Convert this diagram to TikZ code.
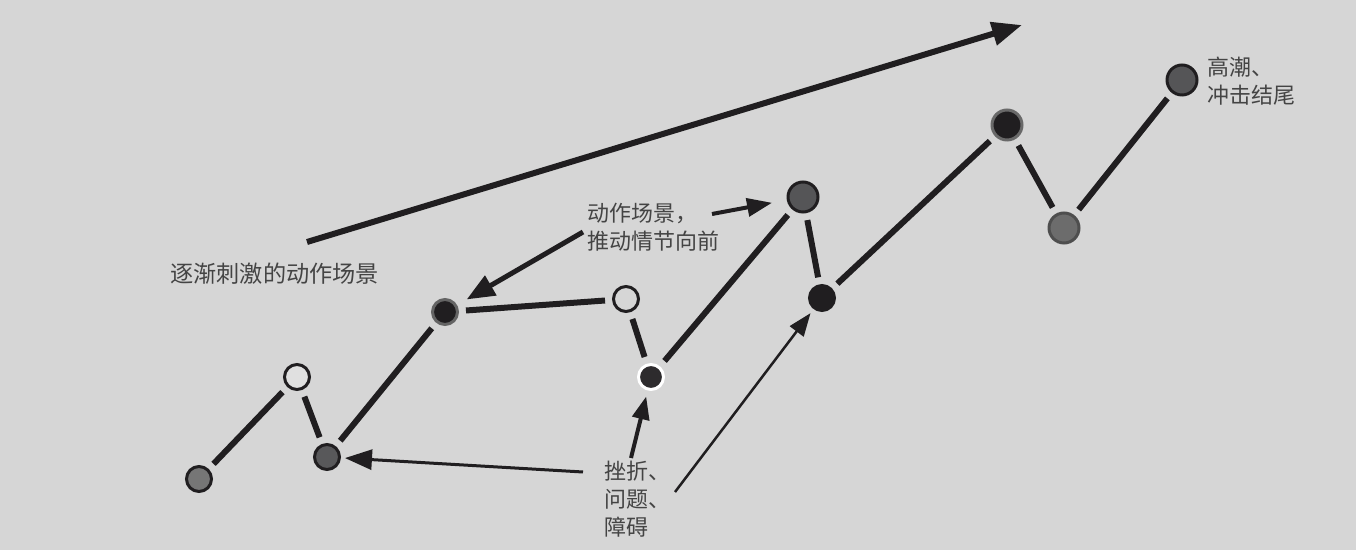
\documentclass[tikz,border=0pt]{standalone}
\usepackage{fontspec}
\setmainfont{Noto Sans CJK SC}
\usetikzlibrary{arrows.meta}

\definecolor{bg}{RGB}{214,214,214}
\definecolor{ink}{RGB}{32,30,32}
\definecolor{txt}{RGB}{68,68,68}

\tikzset{
  dot/.style={circle, draw=ink, line width=0.06cm, minimum size=0.5cm, inner sep=0pt},
  bigdot/.style={dot, minimum size=0.6cm},
  link/.style={draw=ink, line width=0.12cm, shorten >=0.14cm, shorten <=0.14cm},
  lbl/.style={anchor=west, align=left, inner sep=0pt, text=txt,
    font=\fontsize{12.5pt}{16pt}\selectfont}
}

\begin{document}
\begin{tikzpicture}[x=0.02cm, y=-0.02cm]
\useasboundingbox[fill=bg] (0,0) rectangle (1356,550);

\node[dot, fill={rgb,255:red,118;green,118;blue,118}] (1) at (199,479) {};
\node[dot, fill={rgb,255:red,224;green,224;blue,224}] (2) at (297,377) {};
\node[dot, fill={rgb,255:red,88;green,88;blue,90}] (3) at (327,457) {};
\node[dot, fill=ink, draw={rgb,255:red,100;green,100;blue,100}] (4) at (445,312) {};
\node[dot, fill=bg] (5) at (626,299) {};
\node[dot, fill={rgb,255:red,45;green,43;blue,45}, draw=white] (6) at (651,377) {};
\node[bigdot, fill={rgb,255:red,85;green,85;blue,87}] (7) at (803,197) {};
\node[dot, fill=ink] (8) at (822,298) {};
\node[bigdot, fill=ink, draw={rgb,255:red,105;green,105;blue,105}] (9) at (1007,125) {};
\node[bigdot, fill={rgb,255:red,108;green,108;blue,108}, draw={rgb,255:red,78;green,78;blue,78}] (10) at (1064,228) {};
\node[bigdot, fill={rgb,255:red,85;green,85;blue,87}] (11) at (1182,80) {};

\draw[link] (1) -- (2);
\draw[link] (2) -- (3);
\draw[link] (3) -- (4);
\draw[link] (4) -- (5);
\draw[link] (5) -- (6);
\draw[link] (6) -- (7);
\draw[link] (7) -- (8);
\draw[link] (8) -- (9);
\draw[link] (9) -- (10);
\draw[link] (10) -- (11);

\node[lbl, font=\fontsize{13.2pt}{16pt}\selectfont] (t1) at (170,274) {逐渐刺激的动作场景};
\node[lbl] (t2) at (587,227) {动作场景，\\推动情节向前};
\node[lbl] (t3) at (604,499) {挫折、\\问题、\\障碍};
\node[lbl] (t4) at (1207,81) {高潮、\\冲击结尾};

\coordinate (a0) at (307,242);
\coordinate (a1) at (1022,25);
\coordinate (b0) at (583,232);
\coordinate (c0) at (712,214);
\coordinate (d0) at (583,472);
\coordinate (e0) at (631,458);
\coordinate (f0) at (675,492);

% arrows
\draw[ink, line width=0.12cm, -{Triangle[length=0.6cm, width=0.46cm]}] (a0) -- (a1);
\draw[ink, line width=0.1cm, shorten >=0.22cm, -{Triangle[length=0.56cm, width=0.44cm]}] (b0) -- (4);
\draw[ink, line width=0.08cm, shorten >=0.3cm, -{Triangle[length=0.5cm, width=0.36cm]}] (c0) -- (7);
\draw[ink, line width=0.06cm, shorten >=0.08cm, -{Triangle[length=0.54cm, width=0.4cm]}] (d0) -- (3);
\draw[ink, line width=0.08cm, shorten >=0.12cm, -{Triangle[length=0.46cm, width=0.34cm]}] (e0) -- (6);
\draw[ink, line width=0.05cm, shorten >=0.1cm, -{Triangle[length=0.46cm, width=0.34cm]}] (f0) -- (8);
\end{tikzpicture}
\end{document}
